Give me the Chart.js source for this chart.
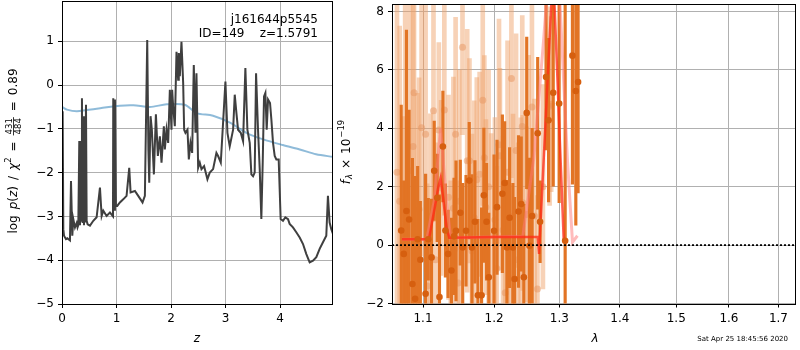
<!DOCTYPE html>
<html><head><meta charset="utf-8">
<script src="https://cdn.jsdelivr.net/npm/chart.js@4.4.1/dist/chart.umd.min.js"></script>
<style>
html,body{margin:0;padding:0;background:#fff;width:800px;height:350px;overflow:hidden;}
canvas{position:absolute;top:0;}
#c1{left:0;} #c2{left:330px;}
</style></head>
<body>
<canvas id="c1" width="345" height="350"></canvas>
<canvas id="c2" width="470" height="350"></canvas>
<script>
// ---------- Left panel data: log p(z) and chi2 ----------
const zGrid = [0.012,0.024,0.037,0.073,0.098,0.146,0.165,0.189,0.207,0.238,0.269,0.285,0.299,0.317,0.330,0.342,0.355,0.366,0.378,0.391,0.403,0.415,0.421,0.440,0.452,0.470,0.513,0.574,0.635,0.696,0.727,0.757,0.818,0.879,0.935,0.940,0.955,0.971,0.989,1.013,1.062,1.123,1.184,1.233,1.258,1.337,1.398,1.477,1.520,1.563,1.585,1.600,1.624,1.648,1.685,1.722,1.758,1.795,1.825,1.868,1.886,1.917,1.947,1.978,2.008,2.020,2.039,2.069,2.100,2.130,2.142,2.161,2.191,2.222,2.240,2.264,2.301,2.326,2.356,2.387,2.417,2.448,2.466,2.497,2.527,2.558,2.606,2.667,2.710,2.771,2.832,2.863,2.912,2.954,2.997,3.034,3.076,3.138,3.168,3.199,3.229,3.278,3.321,3.363,3.400,3.443,3.473,3.504,3.534,3.559,3.595,3.626,3.656,3.681,3.705,3.730,3.754,3.779,3.815,3.840,3.870,3.901,3.931,3.974,4.010,4.053,4.096,4.145,4.175,4.236,4.297,4.359,4.420,4.481,4.542,4.603,4.664,4.725,4.786,4.847,4.877,4.908,4.939,4.970];
const logPz = [-0.60,-3.29,-3.44,-3.52,-3.50,-3.55,-2.19,-3.44,-3.06,-3.25,-3.15,-3.25,-3.20,-1.28,-3.20,-1.30,-3.10,-0.30,-3.15,-0.71,-3.20,-0.86,-3.14,-0.45,-3.10,-3.18,-3.21,-3.10,-3.02,-2.34,-2.99,-2.87,-2.99,-2.91,-3.00,-0.30,-2.85,-0.33,-2.76,-2.76,-2.68,-2.61,-2.53,-1.89,-2.45,-2.42,-2.53,-2.68,-2.53,1.03,-1.50,-2.23,-0.71,-1.02,-2.04,-0.67,-1.62,-1.17,-1.77,-0.94,-1.47,-1.02,-1.32,-0.11,-1.02,-0.11,-0.49,-0.94,0.76,0.12,0.73,0.20,0.99,0.05,-1.02,-1.09,-1.02,-1.70,-1.32,-1.55,0.46,-1.09,0.27,-1.89,-1.77,-1.92,-1.85,-2.15,-2.00,-1.92,-1.55,-1.62,-1.77,-0.86,0.08,-1.09,-1.40,-1.02,-0.22,-0.64,-1.02,-1.09,-1.28,0.39,-1.02,-1.32,-2.04,-2.08,-2.00,0.27,-1.02,-1.92,-3.06,-1.77,-0.26,-0.18,-1.02,-0.33,-0.41,-0.79,-1.32,-1.62,-1.70,-1.70,-3.06,-3.10,-3.02,-3.06,-3.17,-3.25,-3.36,-3.48,-3.63,-3.86,-4.05,-4.01,-3.93,-3.74,-3.59,-3.44,-2.53,-3.14,-3.29,-3.40];
const zChi = [0.0,0.09,0.27,0.45,0.70,1.06,1.31,1.61,1.92,2.25,2.47,2.77,3.08,3.38,3.69,4.05,4.36,4.66,4.97];
const chi2Curve = [-0.50,-0.56,-0.60,-0.57,-0.53,-0.47,-0.46,-0.50,-0.44,-0.45,-0.64,-0.70,-0.86,-1.09,-1.24,-1.37,-1.47,-1.58,-1.64];
const zTicks = [0,1,2,3,4];
const pTicks = [-5,-4,-3,-2,-1,0,1];

// ---------- Right panel data: spectrum ----------
const lamDark = [1.0710,1.0744,1.0779,1.0814,1.0858,1.0894,1.0928,1.0964,1.1035,1.1071,1.1116,1.1152,1.1193,1.1224,1.1271,1.1306,1.1343,1.1389,1.1426,1.1454,1.1514,1.1548,1.1595,1.1641,1.1679,1.1722,1.1765,1.1818,1.1851,1.1890,1.1923,1.2000,1.2044,1.2123,1.2157,1.2191,1.2231,1.2280,1.2306,1.2365,1.2406,1.2446,1.2490,1.2532,1.2573,1.2659,1.2696,1.2789,1.2829,1.2902,1.2996,1.3092,1.3209,1.3264,1.3301];
const fluxDark = [0.5,-0.3,1.17,0.88,-1.33,-1.84,0.2,-0.5,-1.67,0.2,-0.42,2.55,1.62,-1.78,3.38,0.5,-0.3,-0.87,0.3,0.49,1.11,-0.08,0.49,2.21,-0.08,0.8,-1.72,-1.72,1.71,0.8,-1.1,0.49,1.3,1.76,2.13,-0.08,0.94,-0.08,-1.16,1.15,1.41,-1.1,4.53,-0.02,1.0,3.83,0.8,5.76,4.28,5.22,4.85,0.15,6.49,5.28,5.59];
const errDark = [4.3,2.5,6.2,3.75,4.3,4.2,2.5,2.0,4.1,1.4,2.0,1.7,1.5,3.5,1.9,1.6,1.5,1.8,2.0,2.4,1.8,2.2,1.9,2.0,2.5,2.1,2.6,3.0,2.3,2.0,2.2,2.6,2.3,2.7,2.1,2.3,2.4,2.2,2.8,2.6,2.3,2.5,2.6,3.0,3.0,2.6,1.4,2.5,2.8,3.2,3.4,9.0,4.4,4.6,3.8];
const lamLight = [1.0655,1.0690,1.0744,1.0762,1.0822,1.0867,1.0880,1.0925,1.0947,1.0981,1.1035,1.1057,1.1100,1.1142,1.1170,1.1215,1.1246,1.1291,1.1349,1.1380,1.1417,1.1448,1.1484,1.1500,1.1545,1.1612,1.1644,1.1680,1.1712,1.1749,1.1790,1.1835,1.1858,1.1881,1.1920,1.1958,1.2013,1.2040,1.2073,1.2087,1.2133,1.2165,1.2200,1.2235,1.2258,1.2282,1.2328,1.2360,1.2398,1.2422,1.2430,1.2491,1.2520,1.2570,1.2610,1.2655,1.2740,1.2845,1.2870];
const fluxLight = [2.5,1.5,0.5,0.88,2.55,3.38,5.22,0.2,1.23,4.02,3.8,-1.4,1.0,4.6,-0.5,3.94,1.96,4.63,1.64,-0.8,1.26,3.8,-1.3,1.5,6.78,2.89,2.89,-0.2,0.94,2.24,2.43,4.96,2.99,1.3,2.0,0.32,0.87,-0.8,3.44,3.06,0.52,-1.63,2.5,-1.15,5.71,0.99,3.24,-0.5,0.86,4.06,1.45,1.05,2.0,4.73,1.0,-1.5,2.0,4.76,4.83];
const errLight = [6.5,6.0,3.9,7.5,6.5,5.5,4.5,5.0,4.5,4.4,4.7,3.5,3.5,3.8,4.0,3.0,3.0,3.6,3.5,3.0,4.5,4.0,3.5,4.5,3.0,4.5,3.5,4.0,4.0,3.5,3.5,3.6,3.5,3.0,4.0,3.5,3.5,3.5,4.3,3.0,3.2,3.0,4.5,3.2,3.4,3.5,4.0,4.0,3.5,3.8,3.0,3.0,4.5,3.5,4.0,3.2,3.5,3.4,3.0];
const lamModel = [1.072,1.108,1.116,1.121,1.124,1.128,1.132,1.136,1.200,1.266,1.268,1.290,1.307];
const fluxModel = [0.2,0.2,1.3,2.0,2.3,1.5,0.6,0.25,0.28,0.28,-0.3,9.5,0.12];
const lamModel2 = [1.072,1.105,1.115,1.124,1.132,1.138,1.243,1.260,1.275,1.287,1.296,1.313,1.321,1.329];
const fluxModel2 = [0.2,0.2,1.5,4.0,1.5,0.25,0.3,3.0,7.0,10.5,10.5,2.87,0.1,0.32];
const lamTicks = [1.1,1.2,1.3,1.4,1.5,1.6,1.7];
const fTicks = [-2,0,2,4,6,8];

const FONT = 'DejaVu Sans';
const tickFont = {family: FONT, size: 12};
const minusFix = v => String(v).replace('-', '\u2212');

function drawPieces(ctx, cx, cy, pieces) {
  ctx.save();
  ctx.translate(cx, cy);
  ctx.rotate(-Math.PI / 2);
  let total = 0;
  pieces.forEach(p => {
    ctx.font = p.font;
    if (p.frac) p.w = Math.max(ctx.measureText(p.num).width, ctx.measureText(p.den).width) + 2;
    else p.w = ctx.measureText(p.t).width;
    total += p.w + (p.gap || 0);
  });
  let x = -total / 2;
  ctx.fillStyle = '#000';
  ctx.textBaseline = 'alphabetic';
  ctx.textAlign = 'center';
  pieces.forEach(p => {
    ctx.font = p.font;
    if (p.frac) {
      const mid = x + p.w / 2;
      ctx.fillText(p.num, mid, -0.5);
      ctx.fillText(p.den, mid, 8.5);
      ctx.fillRect(x, 1, p.w, 0.8);
    } else {
      ctx.fillText(p.t, x + p.w / 2, 4.5 + (p.dy || 0));
    }
    x += p.w + (p.gap || 0);
  });
  ctx.restore();
}

const frame = {
  id: 'frame',
  afterDraw(chart) {
    const {ctx, chartArea: a} = chart;
    ctx.save();
    ctx.strokeStyle = '#000';
    ctx.lineWidth = 1;
    ctx.strokeRect(Math.round(a.left) + 0.5, Math.round(a.top) + 0.5, Math.round(a.right - a.left) - 1, Math.round(a.bottom - a.top));
    ctx.restore();
  }
};

const leftText = {
  id: 'leftText',
  afterDraw(chart) {
    const ctx = chart.ctx;
    ctx.save();
    ctx.fillStyle = '#000';
    ctx.font = '12px "DejaVu Sans"';
    ctx.textAlign = 'right';
    ctx.textBaseline = 'middle';
    ctx.fillText('j161644p5545', 318, 20);
    ctx.fillText('ID=149    z=1.5791', 318, 34);
    ctx.textAlign = 'center';
    ctx.font = 'italic 12px "DejaVu Sans"';
    ctx.fillText('z', 197, 339);
    ctx.restore();
    const R = '12px "DejaVu Sans"', I = 'italic 12px "DejaVu Sans"', S = '8.5px "DejaVu Sans"';
    drawPieces(ctx, 12, 151, [
      {t: 'log', font: R, gap: 6}, {t: 'p', font: I}, {t: '(', font: R}, {t: 'z', font: I},
      {t: ')', font: R, gap: 6}, {t: '/', font: R, gap: 6}, {t: '\u03c7', font: I},
      {t: '2', font: S, dy: -5.5, gap: 6}, {t: '=', font: R, gap: 6},
      {frac: true, num: '431', den: '484', font: S, gap: 6}, {t: '=', font: R, gap: 6},
      {t: '0.89', font: R}
    ]);
  }
};

const rightText = {
  id: 'rightText',
  afterDraw(chart) {
    const ctx = chart.ctx;
    ctx.save();
    ctx.fillStyle = '#000';
    ctx.textAlign = 'center';
    ctx.textBaseline = 'middle';
    ctx.font = 'italic 12px "DejaVu Sans"';
    ctx.fillText('\u03bb', 265, 339);
    ctx.font = '7px "DejaVu Sans"';
    ctx.textAlign = 'right';
    ctx.fillText('Sat Apr 25 18:45:56 2020', 458, 339);
    ctx.restore();
    const R = '12px "DejaVu Sans"', I = 'italic 12px "DejaVu Sans"', S = '8.5px "DejaVu Sans"', SI = 'italic 8.5px "DejaVu Sans"';
    drawPieces(ctx, 15, 152, [
      {t: 'f', font: I, gap: 1}, {t: '\u03bb', font: SI, dy: 2.5, gap: 5}, {t: '\u00d7', font: R, gap: 5},
      {t: '10', font: R, gap: 1}, {t: '\u221219', font: S, dy: -5.5}
    ]);
  }
};

const gridOpts = {color: '#b0b0b0', lineWidth: 1, tickColor: '#000', tickLength: 4};
const fitX = h => s => { s.height = h; s.paddingLeft = 0; s.paddingRight = 0; s.paddingTop = 0; s.paddingBottom = 0; };
const fitY = w => s => { s.width = w; s.paddingLeft = 0; s.paddingRight = 0; s.paddingTop = 0; s.paddingBottom = 0; };

new Chart(document.getElementById('c1'), {
  type: 'line',
  data: {
    datasets: [
      {data: zGrid.map((z, i) => ({x: z, y: logPz[i]})), borderColor: '#3f3f3f', borderWidth: 2, pointRadius: 0, tension: 0, order: 1},
      {data: zChi.map((z, i) => ({x: z, y: chi2Curve[i]})), borderColor: 'rgba(31,119,180,0.5)', borderWidth: 2, pointRadius: 0, tension: 0.3, order: 2}
    ]
  },
  options: {
    responsive: false, animation: false, events: [],
    layout: {padding: {left: 0, right: 12, top: 1, bottom: 0}},
    plugins: {legend: {display: false}, tooltip: {enabled: false}},
    scales: {
      x: {type: 'linear', min: 0, max: 4.97,
          afterBuildTicks: s => { s.ticks = zTicks.map(v => ({value: v})); },
          afterFit: fitX(46),
          grid: gridOpts, border: {display: false},
          ticks: {font: tickFont, color: '#000', padding: 4, maxRotation: 0, callback: minusFix}},
      y: {type: 'linear', min: -5, max: 1.92,
          afterBuildTicks: s => { s.ticks = pTicks.map(v => ({value: v})); },
          afterFit: fitY(62),
          grid: gridOpts, border: {display: false},
          ticks: {font: tickFont, color: '#000', padding: 4, callback: minusFix}}
    }
  },
  plugins: [frame, leftText]
});

const darkC = 'rgb(226,116,36)';
new Chart(document.getElementById('c2'), {
  type: 'line',
  data: {
    datasets: [
      {type: 'bar', data: lamLight.map((l, i) => ({x: l, y: [fluxLight[i] - errLight[i], fluxLight[i] + errLight[i]]})),
       backgroundColor: 'rgba(238,160,105,0.48)', borderWidth: 0, barThickness: 4, grouped: false, order: 9},
      {type: 'line', data: lamLight.map((l, i) => ({x: l, y: fluxLight[i]})), showLine: false,
       pointRadius: 3.5, pointBackgroundColor: 'rgba(232,150,95,0.5)', pointBorderWidth: 0, order: 8},
      {type: 'bar', data: lamDark.map((l, i) => ({x: l, y: [fluxDark[i] - errDark[i], fluxDark[i] + errDark[i]]})),
       backgroundColor: darkC, borderWidth: 0, barThickness: 2.5, grouped: false, order: 7},
      {type: 'line', data: lamModel2.map((l, i) => ({x: l, y: fluxModel2[i]})), borderColor: 'rgba(255,120,120,0.5)',
       borderWidth: 3, pointRadius: 0, tension: 0, order: 6},
      {type: 'line', data: lamModel.map((l, i) => ({x: l, y: fluxModel[i]})), borderColor: 'rgba(255,40,20,0.75)',
       borderWidth: 2.5, pointRadius: 0, tension: 0, order: 5},
      {type: 'line', data: lamDark.map((l, i) => ({x: l, y: fluxDark[i]})), showLine: false,
       pointRadius: 3.3, pointBackgroundColor: 'rgb(214,95,15)', pointBorderWidth: 0, order: 4},
      {type: 'line', data: [{x: 1.059, y: 0}, {x: 1.737, y: 0}], borderColor: '#000', borderWidth: 1.6,
       borderDash: [2, 2], pointRadius: 0, order: 1}
    ]
  },
  options: {
    responsive: false, animation: false, events: [],
    layout: {padding: {left: 0, right: 1, top: 2, bottom: 0}},
    plugins: {legend: {display: false}, tooltip: {enabled: false}},
    scales: {
      x: {type: 'logarithmic', min: 1.059, max: 1.737, offset: false,
          afterBuildTicks: s => { s.ticks = lamTicks.map(v => ({value: v})); },
          afterFit: fitX(46.5),
          grid: Object.assign({}, gridOpts, {offset: false}), border: {display: false},
          ticks: {font: tickFont, color: '#000', padding: 4, maxRotation: 0, autoSkip: false, callback: v => Number(v).toFixed(1)}},
      y: {type: 'linear', min: -2, max: 8.26,
          afterBuildTicks: s => { s.ticks = fTicks.map(v => ({value: v})); },
          afterFit: fitY(62),
          grid: gridOpts, border: {display: false},
          ticks: {font: tickFont, color: '#000', padding: 4, callback: minusFix}}
    }
  },
  plugins: [frame, rightText]
});
</script>
</body></html>
